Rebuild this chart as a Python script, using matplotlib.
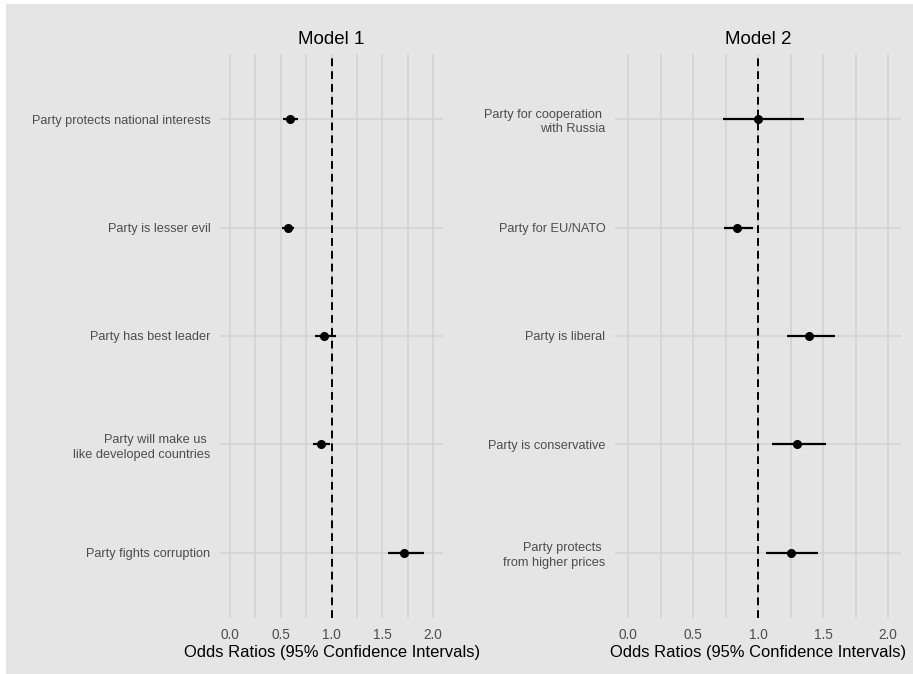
import matplotlib.pyplot as plt
from matplotlib.patches import Rectangle

# Model 1 (top to bottom)
labels_m1 = ['Party protects national interests', 'Party is lesser evil',
             'Party has best leader', 'Party will make us \nlike developed countries',
             'Party fights corruption']
or_m1 = [0.59, 0.57, 0.93, 0.90, 1.72]
lo_m1 = [0.52, 0.51, 0.84, 0.82, 1.56]
hi_m1 = [0.67, 0.63, 1.04, 0.99, 1.91]

# Model 2 (top to bottom)
labels_m2 = ['Party for cooperation \nwith Russia', 'Party for EU/NATO',
             'Party is liberal', 'Party is conservative',
             'Party protects \nfrom higher prices']
or_m2 = [1.00, 0.84, 1.39, 1.30, 1.25]
lo_m2 = [0.73, 0.74, 1.22, 1.11, 1.06]
hi_m2 = [1.35, 0.96, 1.59, 1.52, 1.46]

xticks = [0.0, 0.5, 1.0, 1.5, 2.0]
xlabel = 'Odds Ratios (95% Confidence Intervals)'

bg = '#e5e5e5'
grid = '#d3d3d3'
plt.rcParams['font.family'] = ['Liberation Sans', 'DejaVu Sans']

fig = plt.figure(figsize=(9.13, 6.74), dpi=100, facecolor='white')
fig.patches.append(Rectangle((6 / 913, 0), 1, 1 - 4 / 674, transform=fig.transFigure,
                             facecolor=bg, edgecolor='none', zorder=-10))

ax1 = fig.add_axes([220 / 913, 56 / 674, 223 / 913, 564 / 674])
ax2 = fig.add_axes([615 / 913, 56 / 674, 286 / 913, 564 / 674])

for ax, title, labels, est, lo, hi in [(ax1, 'Model 1', labels_m1, or_m1, lo_m1, hi_m1),
                                        (ax2, 'Model 2', labels_m2, or_m2, lo_m2, hi_m2)]:
    ax.set_facecolor(bg)
    y = list(range(len(labels), 0, -1))
    ax.set_xlim(-0.1, 2.1)
    ax.set_ylim(0.4, len(labels) + 0.6)
    for v in [i * 0.25 for i in range(9)]:
        ax.axvline(v, color=grid, lw=1.2, zorder=0)
    for yy in y:
        ax.axhline(yy, color=grid, lw=1.2, zorder=0)
    ax.axvline(1.0, color='black', lw=1.4, ls=(0, (4, 2.6)), zorder=2)
    ax.hlines(y, lo, hi, color='black', lw=1.6, zorder=3)
    ax.plot(est, y, 'o', color='black', ms=5.5, zorder=4)
    ax.set_yticks(y)
    ax.set_yticklabels(labels, ha='right', multialignment='right', linespacing=1.3)
    ax.set_xticks(xticks)
    ax.set_xticklabels([f'{t:.1f}' for t in xticks])
    ax.tick_params(axis='both', length=0, colors='#4d4d4d')
    ax.tick_params(axis='y', pad=7, labelsize=9.2)
    ax.tick_params(axis='x', pad=7, labelsize=9.8)
    for s in ax.spines.values():
        s.set_visible(False)
    ax.set_title(title, fontsize=13.5, pad=7)
    ax.set_xlabel(xlabel, fontsize=11.9, labelpad=2)

fig.savefig('out.png', dpi=100, facecolor=fig.get_facecolor())
